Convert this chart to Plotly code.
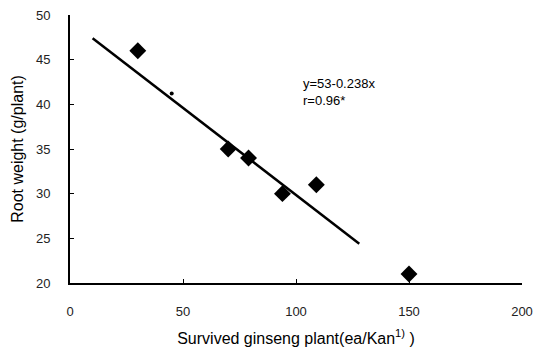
import plotly.graph_objects as go

# Data
plant_x = [30, 70, 79, 94, 109, 150]
root_y = [46, 35, 34, 30, 31, 21]
small_x = [45]
small_y = [41.2]
fit_x = [10, 128]
fit_y = [47.4, 24.4]
x_ticks = [0, 50, 100, 150, 200]
y_ticks = [20, 25, 30, 35, 40, 45, 50]

font_family = "Liberation Sans, Arial, sans-serif"

fig = go.Figure()
fig.add_trace(go.Scatter(x=fit_x, y=fit_y, mode="lines",
                         line=dict(color="black", width=2.5), showlegend=False))
fig.add_trace(go.Scatter(x=plant_x, y=root_y, mode="markers",
                         marker=dict(symbol="diamond", size=13, color="black"),
                         showlegend=False))
fig.add_trace(go.Scatter(x=small_x, y=small_y, mode="markers",
                         marker=dict(symbol="circle", size=4, color="black"),
                         showlegend=False))

fig.add_annotation(x=0.51, y=0.78, xref="paper", yref="paper",
                   xanchor="left", yanchor="top", showarrow=False,
                   text="y=53-0.238x<br>r=0.96*", align="left",
                   font=dict(family=font_family, size=13, color="black"))

fig.update_layout(
    width=543, height=350,
    margin=dict(l=70, r=21, t=15, b=67),
    paper_bgcolor="white", plot_bgcolor="white",
    font=dict(family=font_family, color="black"),
    xaxis=dict(range=[0, 200], tickvals=x_ticks, showgrid=False, zeroline=False,
               showline=True, linecolor="black", linewidth=2, automargin=False,
               ticks="inside", ticklen=4, tickcolor="black",
               tickfont=dict(size=13, color="#222"), ticklabelstandoff=15,
               title=dict(text="Survived ginseng plant(ea/Kan<sup>1)</sup> )",
                          font=dict(size=16, color="black"), standoff=15)),
    yaxis=dict(range=[20, 50], tickvals=y_ticks, showgrid=False, zeroline=False,
               showline=True, linecolor="black", linewidth=2, automargin=False,
               ticks="inside", ticklen=4, tickcolor="black",
               tickfont=dict(size=13, color="#222"), ticklabelstandoff=15,
               title=dict(text="Root weight (g/plant)",
                          font=dict(size=16, color="black"), standoff=8)),
)

fig.write_html("out.html", config={"displayModeBar": False},
               post_script="document.body.style.margin='0';document.body.style.overflow='hidden';")
